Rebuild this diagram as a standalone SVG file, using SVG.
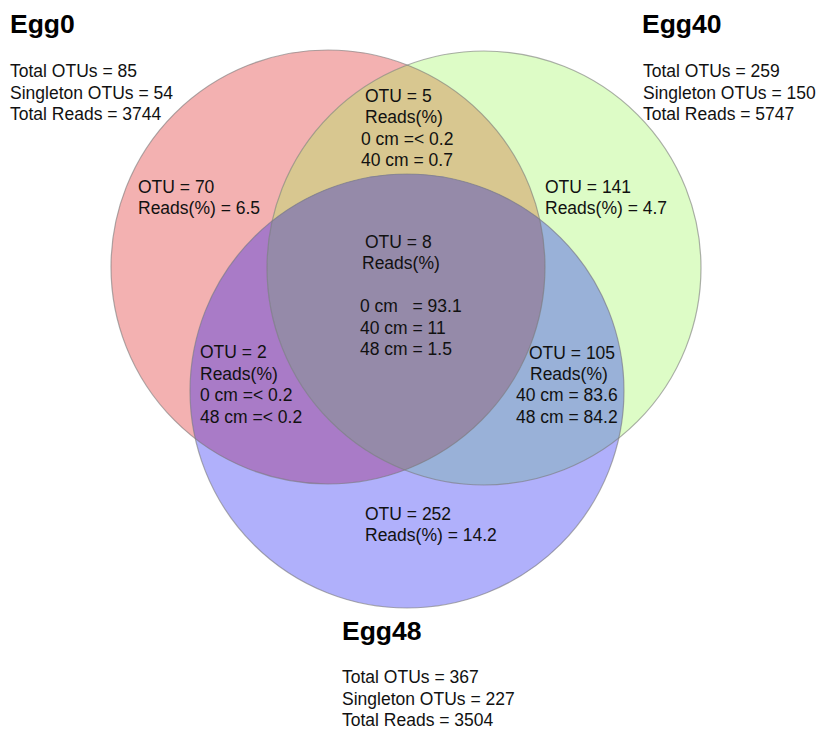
<svg xmlns="http://www.w3.org/2000/svg" width="819" height="730" viewBox="0 0 819 730">
<defs>
<style>
text{font-family:"Liberation Sans",Arial,Helvetica,sans-serif;font-size:17.5px;fill:#111;}
.title{font-size:26.5px;font-weight:bold;fill:#000;}
.edge{fill:none;stroke:#7a7a7a;stroke-opacity:0.6;stroke-width:1.2;}
</style>
<clipPath id="cR"><circle cx="328" cy="267" r="217"/></clipPath>
<clipPath id="cG"><circle cx="484" cy="268" r="217"/></clipPath>
<clipPath id="cB"><circle cx="407" cy="391" r="217"/></clipPath>
</defs>
<rect width="819" height="730" fill="#ffffff"/>
<g id="egg0">
<circle cx="328" cy="267" r="217" fill="#f3b1b1"/>
</g>
<g id="egg40">
<circle cx="484" cy="268" r="217" fill="#ddfcc6"/>
</g>
<g id="egg48">
<circle cx="407" cy="391" r="217" fill="#b0b0fb"/>
</g>
<g id="overlaps">
<g clip-path="url(#cR)"><circle cx="484" cy="268" r="217" fill="#d8c790"/></g>
<g clip-path="url(#cR)"><circle cx="407" cy="391" r="217" fill="#a97bc7"/></g>
<g clip-path="url(#cG)"><circle cx="407" cy="391" r="217" fill="#99b1d8"/></g>
<g clip-path="url(#cR)"><g clip-path="url(#cG)"><circle cx="407" cy="391" r="217" fill="#958aa9"/></g></g>
</g>
<g id="edges">
<circle class="edge" cx="328" cy="267" r="217"/>
<circle class="edge" cx="484" cy="268" r="217"/>
<circle class="edge" cx="407" cy="391" r="217"/>
</g>
<g id="egg0-label">
<text class="title" x="10" y="33">Egg0</text>
<text x="10" y="77">Total OTUs = 85</text>
<text x="10" y="98.5">Singleton OTUs = 54</text>
<text x="10" y="120">Total Reads = 3744</text>
</g>
<g id="egg40-label">
<text class="title" x="642" y="33">Egg40</text>
<text x="643" y="77">Total OTUs = 259</text>
<text x="643" y="98.5">Singleton OTUs = 150</text>
<text x="643" y="120">Total Reads = 5747</text>
</g>
<g id="egg48-label">
<text class="title" x="342" y="640">Egg48</text>
<text x="342" y="683">Total OTUs = 367</text>
<text x="342" y="704.5">Singleton OTUs = 227</text>
<text x="342" y="726">Total Reads = 3504</text>
</g>
<g id="only-egg0">
<text x="138" y="193">OTU = 70</text>
<text x="138" y="214">Reads(%) = 6.5</text>
</g>
<g id="only-egg40">
<text x="545" y="193">OTU = 141</text>
<text x="545" y="214">Reads(%) = 4.7</text>
</g>
<g id="only-egg48">
<text x="365" y="520">OTU = 252</text>
<text x="365" y="541">Reads(%) = 14.2</text>
</g>
<g id="egg0-egg40">
<text x="365" y="102">OTU = 5</text>
<text x="365" y="123">Reads(%)</text>
<text x="361" y="145">0 cm =&lt; 0.2</text>
<text x="361" y="166">40 cm = 0.7</text>
</g>
<g id="egg0-egg48">
<text x="200" y="358">OTU = 2</text>
<text x="200" y="380">Reads(%)</text>
<text x="200" y="401">0 cm =&lt; 0.2</text>
<text x="200" y="423">48 cm =&lt; 0.2</text>
</g>
<g id="egg40-egg48">
<text x="529" y="359">OTU = 105</text>
<text x="530" y="380">Reads(%)</text>
<text x="516" y="401">40 cm = 83.6</text>
<text x="516" y="423">48 cm = 84.2</text>
</g>
<g id="all-three">
<text x="365" y="248">OTU = 8</text>
<text x="362" y="269">Reads(%)</text>
<text x="360" y="312" xml:space="preserve">0 cm   = 93.1</text>
<text x="360" y="334">40 cm = 11</text>
<text x="360" y="355">48 cm = 1.5</text>
</g>
</svg>
